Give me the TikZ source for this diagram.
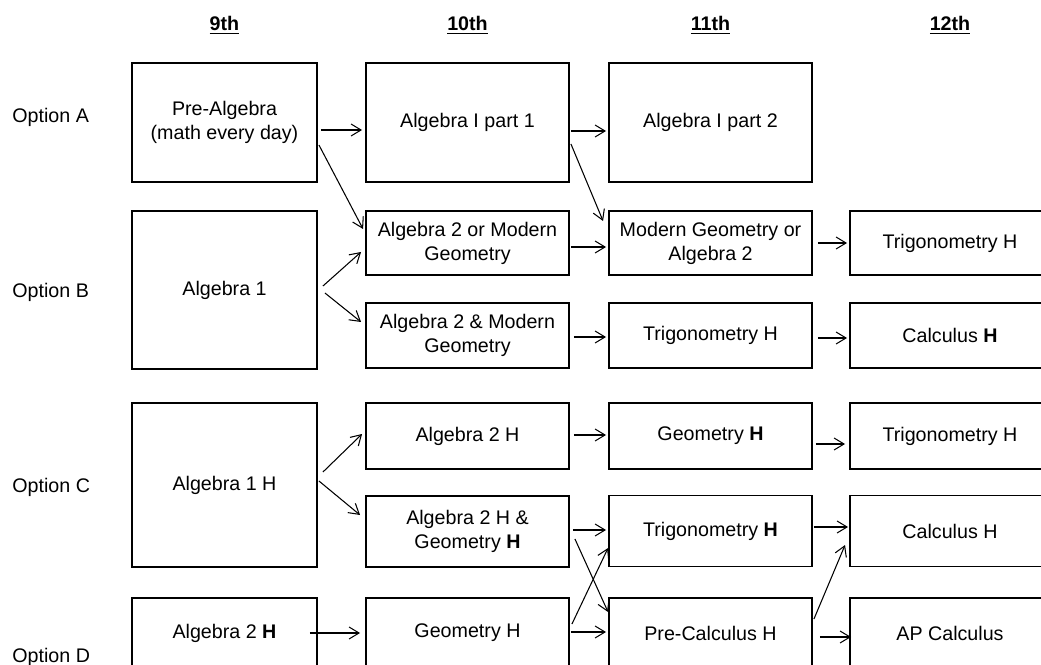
\documentclass[tikz,border=0pt]{standalone}
\usepackage{fontspec}
\setmainfont{Liberation Sans}
\usepackage{tikz}
\usetikzlibrary{arrows.meta, calc}
\tikzstyle{box} = [rectangle, minimum width=4.06cm, text centered, align=center, draw=black, line width=1.1pt, inner sep=0pt]
\tikzstyle{narrow} = [box, minimum width=3.7cm]
\tikzstyle{right} = [box, minimum width=4cm]
\tikzstyle{arrow} = [line width=0.6pt, -{Straight Barb[length=2mm,width=2.4mm]}]
\tikzstyle{year} = [font=\fontsize{11.2}{13.7}\selectfont\bfseries]
\tikzstyle{option} = [anchor=west, inner sep=0pt]

\begin{document}
\begin{tikzpicture}[x=0.02cm, y=-0.02cm, font=\fontsize{11.2}{13.7}\selectfont]
    \useasboundingbox (0,0) rectangle (1041,665);
    \clip (0,0) rectangle (1041,665);

    % years
    \node (y9) [year] at (224.5,25) {\underline{9th}};
    \node (y10) [year] at (467.5,25) {\underline{10th}};
    \node (y11) [year] at (710.5,25) {\underline{11th}};
    \node (y12) [year] at (950,25) {\underline{12th}};

    % options
    \node (oa) [option] at (12,117) {Option A};
    \node (ob) [option] at (12,292) {Option B};
    \node (oc) [option] at (12,487) {Option C};
    \node (od) [option] at (12,657) {Option D};

    % option A
    \node (1) [narrow, minimum height=2.38cm] at (224.5,122.5) {Pre-Algebra\\(math every day)};
    \node (2) [box, minimum height=2.38cm] at (467.5,122.5) {Algebra I part 1};
    \node (3) [box, minimum height=2.38cm] at (710.5,122.5) {Algebra I part 2};

    % option B
    \node (4) [narrow, minimum height=3.16cm] at (224.5,290) {Algebra 1};
    \node (5) [box, minimum height=1.28cm] at (467.5,243) {Algebra 2 or Modern\\Geometry};
    \node (6) [box, minimum height=1.28cm] at (710.5,243) {Modern Geometry or\\Algebra 2};
    \node (7) [right, minimum height=1.28cm] at (950,243) {Trigonometry H};
    \node (8) [box, minimum height=1.3cm] at (467.5,335.5) {Algebra 2 \& Modern\\Geometry};
    \node (9) [box, minimum height=1.3cm] at (710.5,335.5) {Trigonometry H};
    \node (10) [right, minimum height=1.3cm] at (950,335.5) {Calculus \textbf{H}};

    % option C
    \node (11) [narrow, minimum height=3.28cm] at (224.5,485) {Algebra 1 H};
    \node (12) [box, minimum height=1.32cm] at (467.5,436) {Algebra 2 H};
    \node (13) [box, minimum height=1.32cm] at (710.5,436) {Geometry \textbf{H}};
    \node (14) [right, minimum height=1.32cm] at (950,436) {Trigonometry H};
    \node (15) [box, minimum height=1.42cm] at (467.5,531.5) {Algebra 2 H \&\\Geometry \textbf{H}};
    \node (16) [box, minimum height=1.42cm] at (710.5,531) {Trigonometry \textbf{H}};
    \node (17) [right, minimum height=1.42cm] at (950,531) {Calculus H};

    % option D
    \node (18) [narrow, minimum height=1.4cm] at (224.5,633) {Algebra 2 \textbf{H}};
    \node (19) [box, minimum height=1.4cm] at (467.5,633) {Geometry H};
    \node (20) [box, minimum height=1.4cm] at (710.5,633) {Pre-Calculus H};
    \node (21) [right, minimum height=1.4cm] at (950,633) {AP Calculus};

    \draw [arrow] ($(1.east)+(3,7.5)$) -- ($(2.west)+(-3,7.5)$);
    \draw [arrow] ($(1.east)+(1,22.5)$) -- ($(5.west)+(-2,-14)$);
    \draw [arrow] ($(4.east)+(5,-4)$) -- ($(5.west)+(-4,9)$);
    \draw [arrow] ($(4.east)+(7,3)$) -- ($(8.west)+(-4,-13.5)$);
    \draw [arrow] ($(2.east)+(1,8.5)$) -- ($(3.west)+(-2,8.5)$);
    \draw [arrow] ($(2.east)+(1,21.5)$) -- ($(6.west)+(-5,-22)$);
    \draw [arrow] ($(5.east)+(1,4)$) -- ($(6.west)+(-2,4)$);
    \draw [arrow] ($(6.east)+(5,0)$) -- ($(7.west)+(-2,0)$);
    \draw [arrow] ($(8.east)+(4,1.5)$) -- ($(9.west)+(-2,1.5)$);
    \draw [arrow] ($(9.east)+(5,2.5)$) -- ($(10.west)+(-2,2.5)$);
    \draw [arrow] ($(11.east)+(5,-13)$) -- ($(12.west)+(-3,-2)$);
    \draw [arrow] ($(11.east)+(1,-4)$) -- ($(15.west)+(-5,-16.5)$);
    \draw [arrow] ($(12.east)+(4,-1)$) -- ($(13.west)+(-2,-1)$);
    \draw [arrow] ($(13.east)+(3,8)$) -- ($(14.west)+(-4,8)$);
    \draw [arrow] ($(15.east)+(3,-1.5)$) -- ($(16.west)+(-2,-1)$);
    \draw [arrow] ($(15.east)+(5,7.5)$) -- ($(20.west)+(0,-21)$);
    \draw [arrow] ($(16.east)+(1,-4)$) -- ($(17.west)+(-1,-4)$);
    \draw [arrow] ($(18.east)+(-8,0)$) -- ($(19.west)+(-5,0)$);
    \draw [arrow] ($(19.east)+(2,-9)$) -- ($(16.west)+(0,17)$);
    \draw [arrow] ($(19.east)+(1,-1)$) -- ($(20.west)+(-2,-1)$);
    \draw [arrow] ($(20.east)+(1,-14)$) -- ($(17.west)+(-4,14)$);
    \draw [arrow] ($(20.east)+(7,4)$) -- ($(21.west)+(2,4)$);
  \end{tikzpicture}
\end{document}
